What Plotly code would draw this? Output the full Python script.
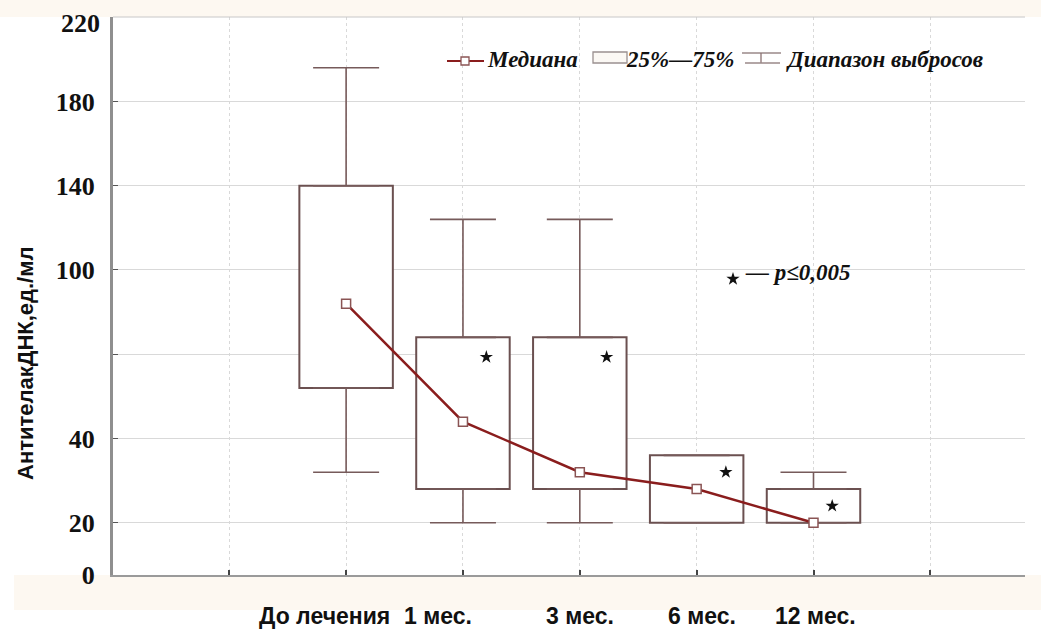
import numpy as np
import plotly.graph_objects as go

# ---- data (values in the chart's axis units) ----
categories = ["До лечения", "1 мес.", "3 мес.", "6 мес.", "12 мес."]
medians = [88, 46, 32, 28, 20]
q1 = [58, 28, 28, 20, 20]
q3 = [140, 76, 76, 36, 28]
whisker_low = [32, 20, 20, 20, 20]
whisker_high = [196, 124, 124, 36, 32]
star_y = [None, 69, 69, 32, 24]          # "*" marks (p<=0.005)
star_dx = [0, 0.20, 0.23, 0.25, 0.16]

# axis labels as printed on the (non-uniform) original value axis
ytick_labels = [0, 20, 40, 100, 140, 180, 220]
ytick_slots = [0.38, 1, 2, 4, 5, 6, 7]     # grid slot of each printed label


def ypos(v):
    return np.interp(np.asarray(v, dtype=float), ytick_labels, ytick_slots)


idx = np.arange(len(categories))
BOX = "#6b5050"
WH = "#765a5a"
MED = "#8a1d1d"

fig = go.Figure()

# IQR boxes
fig.add_trace(go.Bar(
    x=idx, y=ypos(q3) - ypos(q1), base=ypos(q1), width=0.8,
    marker=dict(color="white", line=dict(color=BOX, width=2)),
    showlegend=False, hoverinfo="skip"))

# upper whiskers
fig.add_trace(go.Scatter(
    x=idx, y=ypos(q3), mode="markers", marker=dict(size=1, opacity=0),
    error_y=dict(type="data", symmetric=False,
                 array=ypos(whisker_high) - ypos(q3),
                 arrayminus=np.zeros(len(idx)),
                 color=WH, thickness=1.6, width=33),
    showlegend=False, hoverinfo="skip"))
# lower whiskers
fig.add_trace(go.Scatter(
    x=idx, y=ypos(q1), mode="markers", marker=dict(size=1, opacity=0),
    error_y=dict(type="data", symmetric=False,
                 array=np.zeros(len(idx)),
                 arrayminus=ypos(q1) - ypos(whisker_low),
                 color=WH, thickness=1.6, width=33),
    showlegend=False, hoverinfo="skip"))

# median line
fig.add_trace(go.Scatter(
    x=idx, y=ypos(medians), mode="lines+markers",
    line=dict(color=MED, width=2.5),
    marker=dict(symbol="square", size=9, color="white",
                line=dict(color="#8a5454", width=1.5)),
    showlegend=False, hoverinfo="skip"))

# significance stars
sx = [i + d for i, (d, s) in enumerate(zip(star_dx, star_y)) if s is not None]
sy = [s for s in star_y if s is not None]
fig.add_trace(go.Scatter(
    x=sx, y=ypos(sy), mode="markers",
    marker=dict(symbol="star", size=10, color="#111111"),
    showlegend=False, hoverinfo="skip"))

# ---- layout (body margin removed by post_script) ----
W, H = 1041, 639
PLOT_L, PLOT_R, PLOT_T, PLOT_B = 113, 1025, 17, 575   # screen px
L, T, R, B = PLOT_L, PLOT_T, W - PLOT_R, H - PLOT_B
PW, PH = PLOT_R - PLOT_L, PLOT_B - PLOT_T


def px(x):
    return (x - PLOT_L) / PW


def py(y):
    return (PLOT_B - y) / PH


shapes = []
# cream bands
shapes.append(dict(type="rect", xref="paper", yref="paper", x0=px(0), x1=px(W),
                   y0=py(PLOT_T), y1=py(0), fillcolor="#fdf8f1", line_width=0, layer="below"))
shapes.append(dict(type="rect", xref="paper", yref="paper", x0=px(14), x1=px(W),
                   y0=py(610), y1=py(PLOT_B), fillcolor="#fdf8f1", line_width=0, layer="below"))
# top border line
shapes.append(dict(type="line", xref="paper", yref="paper", x0=0, x1=1, y0=1, y1=1,
                   line=dict(color="#c8c8c8", width=1)))
# legend icons
shapes.append(dict(type="line", xref="paper", yref="paper", x0=px(447), x1=px(484),
                   y0=py(61), y1=py(61), line=dict(color=MED, width=2)))
shapes.append(dict(type="rect", xref="paper", yref="paper", x0=px(461), x1=px(469),
                   y0=py(57), y1=py(65), fillcolor="white", line=dict(color="#8a5454", width=1.3)))
shapes.append(dict(type="rect", xref="paper", yref="paper", x0=px(593), x1=px(627),
                   y0=py(52), y1=py(63), fillcolor="#fbf8f4", line=dict(color="#9a9090", width=1.3)))
shapes.append(dict(type="line", xref="paper", yref="paper", x0=px(742), x1=px(781),
                   y0=py(53), y1=py(53), line=dict(color="#9a8888", width=1.3)))
shapes.append(dict(type="line", xref="paper", yref="paper", x0=px(761), x1=px(761),
                   y0=py(53), y1=py(63), line=dict(color="#8a7070", width=1.3)))
shapes.append(dict(type="line", xref="paper", yref="paper", x0=px(745), x1=px(780),
                   y0=py(63), y1=py(63), line=dict(color="#9a8888", width=1.3)))

TICK_FONT = dict(family="Liberation Serif, Times New Roman, serif",
                 size=26, color="#111111", weight="bold")
LEG_FONT = dict(family="Liberation Serif, Times New Roman, serif", size=23, color="#111111")
annotations = [
    dict(x=px(485), y=py(59), xref="paper", yref="paper", xanchor="left", yanchor="middle",
         text="<b><i>Медиана</i></b>", showarrow=False, font=LEG_FONT),
    dict(x=px(624), y=py(59), xref="paper", yref="paper", xanchor="left", yanchor="middle",
         text="<b><i>25%—75%</i></b>", showarrow=False, font=LEG_FONT),
    dict(x=px(784), y=py(59), xref="paper", yref="paper", xanchor="left", yanchor="middle",
         text="<b><i>Диапазон выбросов</i></b>", showarrow=False, font=LEG_FONT),
    dict(x=px(743), y=py(272), xref="paper", yref="paper", xanchor="left", yanchor="middle",
         text="<b><i>— p≤0,005</i></b>", showarrow=False, font=LEG_FONT),
    dict(x=px(25), y=py(364), xref="paper", yref="paper", xanchor="center", yanchor="middle",
         text="<b>АнтителакДНК,ед./мл</b>", textangle=-90, showarrow=False,
         font=dict(family="Liberation Sans Narrow, Liberation Sans, Arial, sans-serif",
                   size=22, color="#111111")),
    # top tick label (printed slightly below its grid line in the original)
    dict(x=px(102), y=py(24), xref="paper", yref="paper", xanchor="right", yanchor="middle",
         text=str(ytick_labels[-1]), showarrow=False, font=TICK_FONT),
]
# legend star
fig.add_trace(go.Scatter(
    x=[px(733)], y=[py(279)], xaxis="x2", yaxis="y2", mode="markers",
    marker=dict(symbol="star", size=10, color="#111111"),
    showlegend=False, hoverinfo="skip"))

# category labels (slightly shifted as in the original)
label_shift = [-22, -25, 0, 5, 2]
for i, (c, s) in enumerate(zip(categories, label_shift)):
    annotations.append(dict(
        x=i, y=py(616), xref="x", yref="paper", xshift=s, xanchor="center", yanchor="middle",
        text=f"<b>{c}</b>", showarrow=False,
        font=dict(family="Liberation Sans Narrow, Liberation Sans, Arial, sans-serif",
                  size=23, color="#111111")))

tick_text = [str(v) for v in ytick_labels[:3]] + [""] + [str(v) for v in ytick_labels[3:-1]] + [""]

fig.update_layout(
    width=W, height=H,
    margin=dict(l=L, r=R, t=T, b=B, autoexpand=False),
    paper_bgcolor="white", plot_bgcolor="white",
    shapes=shapes, annotations=annotations,
    showlegend=False,
    xaxis=dict(range=[-1.995, 5.81], tickvals=list(range(-1, 6)), ticktext=[""] * 7,
               showgrid=True, gridcolor="#d9d9d9", griddash="dot", gridwidth=1,
               ticks="inside", ticklen=5, tickcolor="#444444", tickwidth=2,
               showline=True, linecolor="#9a9a9a", linewidth=2, zeroline=False,
               automargin=False),
    yaxis=dict(range=[0.38, 7.002], tickvals=[0.38, 1, 2, 3, 4, 5, 6, 7],
               ticktext=tick_text,
               showgrid=True, gridcolor="#d9d9d9", gridwidth=1,
               ticks="inside", ticklen=5, tickcolor="#555555", tickwidth=1,
               showline=True, linecolor="#8f8f8f", linewidth=3, zeroline=False,
               ticklabelstandoff=10, automargin=False,
               tickfont=TICK_FONT),
    xaxis2=dict(range=[0, 1], overlaying="x", visible=False),
    yaxis2=dict(range=[0, 1], overlaying="y", visible=False),
)

fig.write_html("out.html",
               config={"displayModeBar": False},
               post_script="document.body.style.margin='0';document.body.style.overflow='hidden';")
